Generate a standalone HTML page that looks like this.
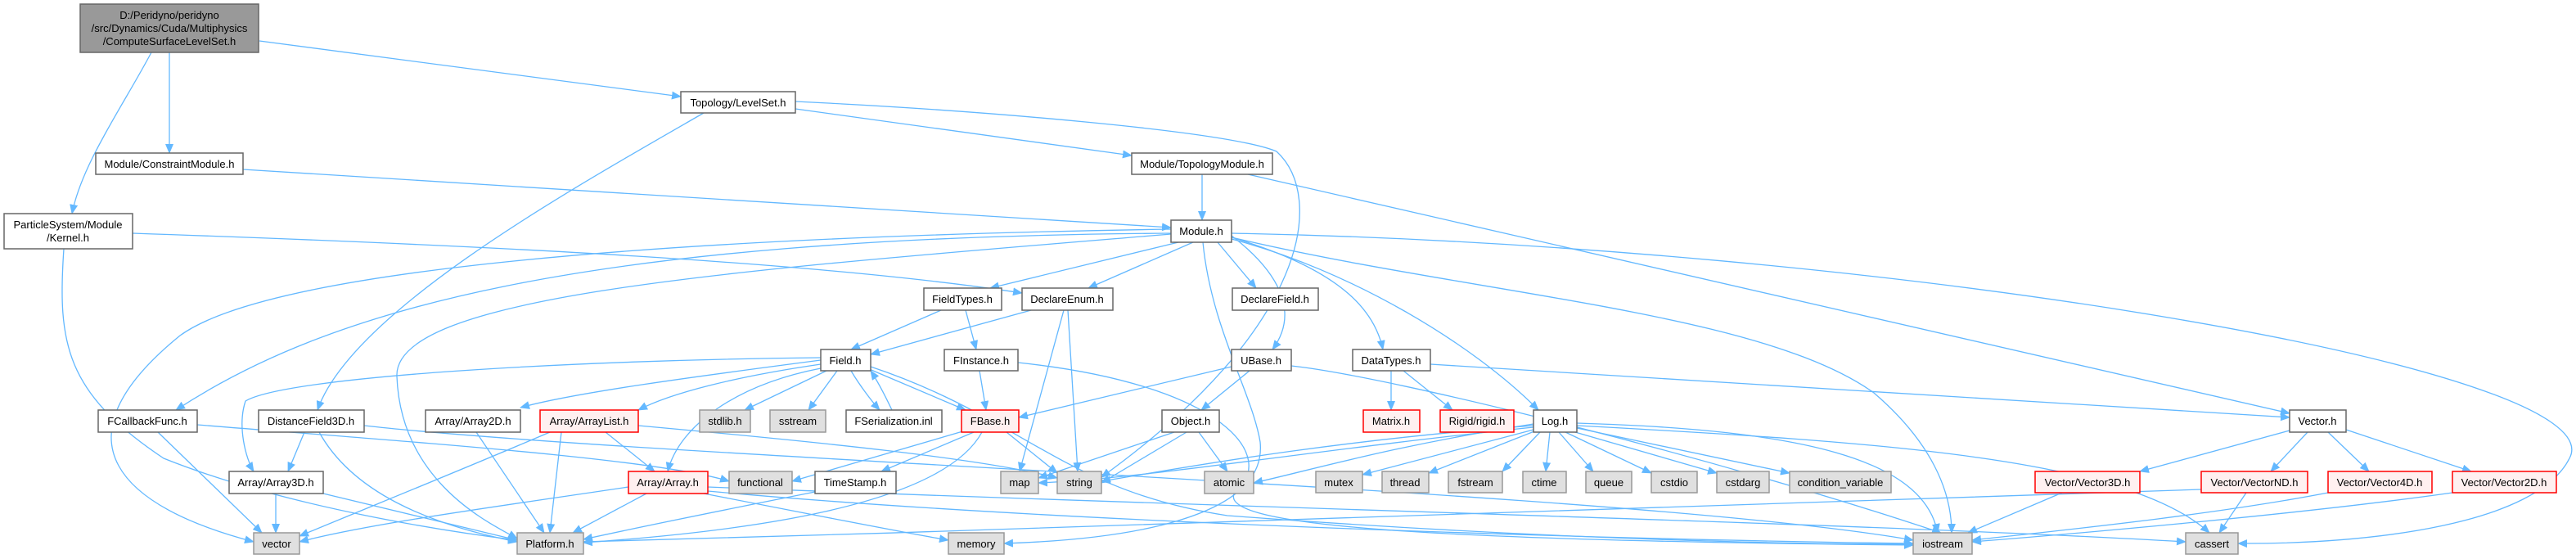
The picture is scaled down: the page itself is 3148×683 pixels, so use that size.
<!DOCTYPE html>
<html><head><meta charset="utf-8"><style>
html,body{margin:0;padding:0;background:#fff;}
svg{display:block;}
text{font-family:"Liberation Sans",Arial,sans-serif;font-size:13px;fill:#000;text-anchor:middle;}
.e{fill:none;stroke:#63b8ff;stroke-width:1.3;marker-end:url(#ah);}
.w{fill:#fff;stroke:#666;stroke-width:1.5;}
.g{fill:#e0e0e0;stroke:#999;stroke-width:1.5;}
.r{fill:#fff0f0;stroke:#f00;stroke-width:1.5;}
.root{fill:#999;stroke:#666;stroke-width:1.5;}
</style></head><body>
<svg width="3148" height="683" viewBox="0 0 3148 683" xmlns="http://www.w3.org/2000/svg">
<defs><marker id="ah" markerWidth="12" markerHeight="10" refX="11" refY="5" orient="auto" markerUnits="userSpaceOnUse"><path d="M0,0 L12,5 L0,10 z" fill="#63b8ff"/></marker></defs>
<g>
<path class="e" d="M317,50 L832,118"/>
<path class="e" d="M207,64 L207,187"/>
<path class="e" d="M185,64 C150,130 100,200 88,261"/>
<path class="e" d="M972,133 L1383,190"/>
<path class="e" d="M860,138 C700,230 430,380 388,501"/>
<path class="e" d="M972,124 C1200,135 1500,160 1560,185 C1620,240 1600,400 1346,583"/>
<path class="e" d="M297,207 L1431,278"/>
<path class="e" d="M1469,213 L1469,269"/>
<path class="e" d="M1525,213 L2798,505"/>
<path class="e" d="M162,285 C600,300 1000,320 1249,358"/>
<path class="e" d="M78,304 C70,420 80,480 200,560 C350,620 550,650 632,660"/>
<path class="e" d="M1440,296 L1210,352"/>
<path class="e" d="M1458,296 L1330,352"/>
<path class="e" d="M1488,296 L1535,352"/>
<path class="e" d="M1505,288 C1560,330 1590,380 1555,427"/>
<path class="e" d="M1505,290 C1640,330 1680,380 1690,427"/>
<path class="e" d="M1505,292 C1650,330 1800,420 1880,501"/>
<path class="e" d="M1431,285 C700,290 400,380 215,501"/>
<path class="e" d="M1431,280 C800,290 330,330 220,410 C60,540 150,620 310,662"/>
<path class="e" d="M1431,286 C900,330 480,360 485,460 C490,590 600,640 632,658"/>
<path class="e" d="M1505,290 C1800,360 2150,380 2290,480 C2360,540 2385,600 2385,651"/>
<path class="e" d="M1505,285 C2300,300 3200,450 3140,560 C3100,640 2900,665 2735,664"/>
<path class="e" d="M1470,296 C1480,400 1530,480 1540,540 C1550,640 1350,660 1227,664"/>
<path class="e" d="M1150,379 L1040,427"/>
<path class="e" d="M1180,379 L1193,427"/>
<path class="e" d="M1260,379 L1064,433"/>
<path class="e" d="M1300,379 L1246,576"/>
<path class="e" d="M1305,379 L1317,576"/>
<path class="e" d="M1010,453 L910,501"/>
<path class="e" d="M1023,453 L988,501"/>
<path class="e" d="M1040,453 C1050,470 1065,490 1075,501"/>
<path class="e" d="M1090,501 C1080,480 1072,465 1064,453"/>
<path class="e" d="M1060,450 L1180,501"/>
<path class="e" d="M1003,440 C850,460 700,480 636,498"/>
<path class="e" d="M1003,445 C900,460 820,480 780,501"/>
<path class="e" d="M1003,437 C700,440 350,460 300,490 C290,520 300,560 310,576"/>
<path class="e" d="M1003,450 C900,470 830,520 816,576"/>
<path class="e" d="M1064,448 C1250,510 1300,600 1500,630 C1900,660 2200,665 2338,665"/>
<path class="e" d="M780,520 C1000,540 1200,560 1292,584"/>
<path class="e" d="M1197,453 L1205,501"/>
<path class="e" d="M1244,443 C1500,470 1560,560 1510,600 C1480,640 1700,660 2338,666"/>
<path class="e" d="M1505,448 L1245,510"/>
<path class="e" d="M1527,453 L1468,501"/>
<path class="e" d="M1578,447 C1700,460 2100,560 2372,651"/>
<path class="e" d="M1435,528 L1269,584"/>
<path class="e" d="M1450,528 L1346,590"/>
<path class="e" d="M1465,528 L1500,576"/>
<path class="e" d="M1180,526 L968,588"/>
<path class="e" d="M1190,528 L1077,576"/>
<path class="e" d="M1230,528 L1292,578"/>
<path class="e" d="M1200,528 C1150,620 900,650 713,663"/>
<path class="e" d="M996,601 C900,620 800,640 713,659"/>
<path class="e" d="M1700,453 L1700,501"/>
<path class="e" d="M1715,453 L1775,501"/>
<path class="e" d="M1748,445 L2798,510"/>
<path class="e" d="M1874,525 L1665,580"/>
<path class="e" d="M1875,527 L1746,578"/>
<path class="e" d="M1882,528 L1836,576"/>
<path class="e" d="M1894,528 L1889,576"/>
<path class="e" d="M1905,528 L1947,576"/>
<path class="e" d="M1913,528 L2018,578"/>
<path class="e" d="M1918,526 L2098,578"/>
<path class="e" d="M1927,523 L2187,578"/>
<path class="e" d="M1927,517 C2200,525 2350,560 2368,651"/>
<path class="e" d="M1874,520 C1600,540 1400,580 1346,588"/>
<path class="e" d="M1874,522 C1600,550 1400,585 1269,590"/>
<path class="e" d="M1874,518 C1700,545 1600,575 1532,590"/>
<path class="e" d="M1927,520 C2300,540 2600,560 2700,651"/>
<path class="e" d="M2798,526 L2615,576"/>
<path class="e" d="M2820,528 L2775,576"/>
<path class="e" d="M2845,528 L2895,576"/>
<path class="e" d="M2867,525 L3020,576"/>
<path class="e" d="M2520,602 L2405,651"/>
<path class="e" d="M2745,602 L2712,651"/>
<path class="e" d="M2690,598 C2400,610 1500,640 713,662"/>
<path class="e" d="M2845,602 C2700,630 2500,650 2410,660"/>
<path class="e" d="M2997,602 C2800,630 2500,655 2410,662"/>
<path class="e" d="M865,595 C1500,620 2300,640 2671,662"/>
<path class="e" d="M790,603 L700,651"/>
<path class="e" d="M768,595 C600,620 450,640 366,662"/>
<path class="e" d="M860,603 C1000,630 1100,650 1159,660"/>
<path class="e" d="M865,600 C1300,640 2000,660 2338,664"/>
<path class="e" d="M740,528 L800,576"/>
<path class="e" d="M686,528 L672,651"/>
<path class="e" d="M672,528 C550,580 450,620 366,655"/>
<path class="e" d="M582,528 L665,651"/>
<path class="e" d="M337,603 L337,651"/>
<path class="e" d="M395,603 L632,660"/>
<path class="e" d="M372,528 L352,576"/>
<path class="e" d="M390,528 C430,600 520,640 632,662"/>
<path class="e" d="M445,520 C800,560 2000,600 2338,660"/>
<path class="e" d="M193,528 L320,651"/>
<path class="e" d="M241,519 C500,540 800,560 891,588"/>
</g>
<g>
<rect class="root" x="98" y="5" width="218" height="59"/>
<text x="207" y="23">D:/Peridyno/peridyno</text><text x="207" y="39">/src/Dynamics/Cuda/Multiphysics</text><text x="207" y="55">/ComputeSurfaceLevelSet.h</text>
<rect class="w" x="832" y="112" width="140" height="26"/><text x="902" y="130">Topology/LevelSet.h</text>
<rect class="w" x="117" y="187" width="180" height="26"/><text x="207" y="205">Module/ConstraintModule.h</text>
<rect class="w" x="1383" y="187" width="172" height="26"/><text x="1469" y="205">Module/TopologyModule.h</text>
<rect class="w" x="5" y="261" width="157" height="43"/><text x="83" y="279">ParticleSystem/Module</text><text x="83" y="295">/Kernel.h</text>
<rect class="w" x="1431" y="269" width="74" height="27"/><text x="1468" y="287">Module.h</text>
<rect class="w" x="1129" y="352" width="95" height="27"/><text x="1176" y="370">FieldTypes.h</text>
<rect class="w" x="1249" y="352" width="111" height="27"/><text x="1304" y="370">DeclareEnum.h</text>
<rect class="w" x="1506" y="352" width="105" height="27"/><text x="1558" y="370">DeclareField.h</text>
<rect class="w" x="1003" y="427" width="61" height="26"/><text x="1033" y="445">Field.h</text>
<rect class="w" x="1154" y="427" width="90" height="26"/><text x="1199" y="445">FInstance.h</text>
<rect class="w" x="1505" y="427" width="73" height="26"/><text x="1541" y="445">UBase.h</text>
<rect class="w" x="1653" y="427" width="95" height="26"/><text x="1700" y="445">DataTypes.h</text>
<rect class="w" x="120" y="501" width="121" height="27"/><text x="180" y="519">FCallbackFunc.h</text>
<rect class="w" x="316" y="501" width="129" height="27"/><text x="380" y="519">DistanceField3D.h</text>
<rect class="w" x="520" y="501" width="116" height="27"/><text x="578" y="519">Array/Array2D.h</text>
<rect class="r" x="660" y="501" width="120" height="27"/><text x="720" y="519">Array/ArrayList.h</text>
<rect class="g" x="855" y="501" width="62" height="27"/><text x="886" y="519">stdlib.h</text>
<rect class="g" x="941" y="501" width="68" height="27"/><text x="975" y="519">sstream</text>
<rect class="w" x="1034" y="501" width="117" height="27"/><text x="1092" y="519">FSerialization.inl</text>
<rect class="r" x="1175" y="501" width="70" height="27"/><text x="1210" y="519">FBase.h</text>
<rect class="w" x="1420" y="501" width="70" height="27"/><text x="1455" y="519">Object.h</text>
<rect class="r" x="1666" y="501" width="69" height="27"/><text x="1700" y="519">Matrix.h</text>
<rect class="r" x="1760" y="501" width="90" height="27"/><text x="1805" y="519">Rigid/rigid.h</text>
<rect class="w" x="1874" y="501" width="53" height="27"/><text x="1900" y="519">Log.h</text>
<rect class="w" x="2798" y="501" width="69" height="27"/><text x="2832" y="519">Vector.h</text>
<rect class="w" x="280" y="576" width="115" height="27"/><text x="337" y="594">Array/Array3D.h</text>
<rect class="r" x="768" y="576" width="97" height="27"/><text x="816" y="594">Array/Array.h</text>
<rect class="g" x="891" y="576" width="77" height="27"/><text x="929" y="594">functional</text>
<rect class="w" x="996" y="576" width="99" height="27"/><text x="1045" y="594">TimeStamp.h</text>
<rect class="g" x="1223" y="576" width="46" height="27"/><text x="1246" y="594">map</text>
<rect class="g" x="1292" y="576" width="54" height="27"/><text x="1319" y="594">string</text>
<rect class="g" x="1472" y="576" width="60" height="27"/><text x="1502" y="594">atomic</text>
<rect class="g" x="1608" y="576" width="57" height="26"/><text x="1636" y="594">mutex</text>
<rect class="g" x="1689" y="576" width="57" height="26"/><text x="1717" y="594">thread</text>
<rect class="g" x="1770" y="576" width="66" height="26"/><text x="1803" y="594">fstream</text>
<rect class="g" x="1861" y="576" width="53" height="26"/><text x="1887" y="594">ctime</text>
<rect class="g" x="1938" y="576" width="56" height="26"/><text x="1966" y="594">queue</text>
<rect class="g" x="2018" y="576" width="56" height="26"/><text x="2046" y="594">cstdio</text>
<rect class="g" x="2098" y="576" width="64" height="26"/><text x="2130" y="594">cstdarg</text>
<rect class="g" x="2187" y="576" width="124" height="26"/><text x="2249" y="594">condition_variable</text>
<rect class="r" x="2487" y="576" width="128" height="26"/><text x="2551" y="594">Vector/Vector3D.h</text>
<rect class="r" x="2690" y="576" width="130" height="26"/><text x="2755" y="594">Vector/VectorND.h</text>
<rect class="r" x="2845" y="576" width="127" height="26"/><text x="2908" y="594">Vector/Vector4D.h</text>
<rect class="r" x="2997" y="576" width="127" height="26"/><text x="3060" y="594">Vector/Vector2D.h</text>
<rect class="g" x="310" y="651" width="56" height="26"/><text x="338" y="669">vector</text>
<rect class="g" x="632" y="651" width="81" height="26"/><text x="672" y="669">Platform.h</text>
<rect class="g" x="1159" y="651" width="68" height="26"/><text x="1193" y="669">memory</text>
<rect class="g" x="2338" y="651" width="72" height="26"/><text x="2374" y="669">iostream</text>
<rect class="g" x="2671" y="651" width="64" height="26"/><text x="2703" y="669">cassert</text>
</g>
</svg>
</body></html>
